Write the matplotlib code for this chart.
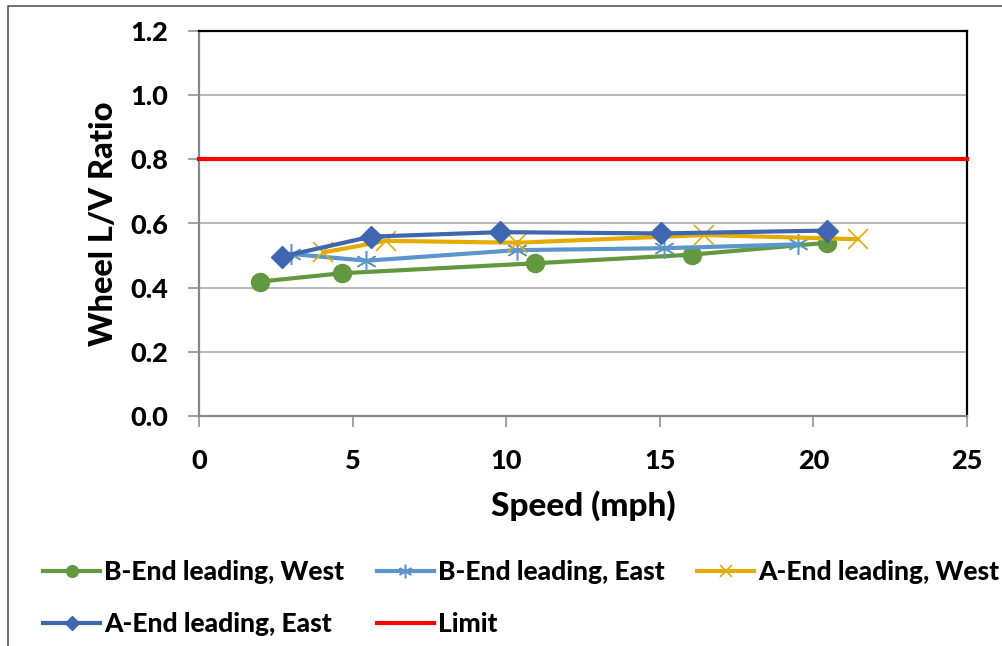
import matplotlib
matplotlib.use("Agg")
import matplotlib.pyplot as plt
from matplotlib.lines import Line2D

# Wheel L/V ratio vs speed, four test runs plus the limit
b_west_speed = [2.0, 4.65, 10.95, 16.05, 20.45]
b_west_lv = [0.419, 0.445, 0.476, 0.503, 0.540]

b_east_speed = [3.0, 5.45, 10.35, 15.15, 19.5]
b_east_lv = [0.505, 0.484, 0.517, 0.523, 0.535]

a_west_speed = [4.05, 6.1, 10.35, 16.45, 21.45]
a_west_lv = [0.510, 0.546, 0.540, 0.564, 0.551]

a_east_speed = [2.7, 5.6, 9.8, 15.05, 20.45]
a_east_lv = [0.497, 0.559, 0.573, 0.569, 0.578]

limit_speed = [0, 25]
limit_lv = [0.8, 0.8]

x_ticks = [0, 5, 10, 15, 20, 25]
y_ticks = [0.0, 0.2, 0.4, 0.6, 0.8, 1.0, 1.2]

WEIGHT = 'black'
plt.rcParams['font.family'] = ['Lato', 'DejaVu Sans']
plt.rcParams['font.weight'] = WEIGHT

W, H = 1002, 646
fig = plt.figure(figsize=(W / 100, H / 100), dpi=100)
ax = fig.add_axes([199 / W, 1 - 416 / H, (967 - 199) / W, (416 - 31) / H])

lw = 3.0
l1, = ax.plot(b_west_speed, b_west_lv, color='#62993E', lw=lw, marker='o',
              markersize=13, label='B-End leading, West', zorder=3)
l2, = ax.plot(b_east_speed, b_east_lv, color='#5A95CC', lw=lw, marker=(6, 2, 0),
              markersize=15, markeredgewidth=1.1, label='B-End leading, East', zorder=4)
l3, = ax.plot(a_west_speed, a_west_lv, color='#E5AC00', lw=lw, marker='x',
              markersize=14, markeredgewidth=1.2, label='A-End leading, West', zorder=5)
l4, = ax.plot(a_east_speed, a_east_lv, color='#3F66B0', lw=lw, marker='D',
              markersize=11, label='A-End leading, East', zorder=6)
l5, = ax.plot(limit_speed, limit_lv, color='#FF0000', lw=3.0, label='Limit',
              zorder=7, solid_capstyle='projecting', clip_on=False)

ax.set_xlim(0, 25)
ax.set_ylim(0, 1.2)
ax.set_xticks(x_ticks)
ax.set_xticklabels([str(t) for t in x_ticks])
ax.set_yticks(y_ticks)
ax.set_yticklabels([f"{t:.1f}" for t in y_ticks])

ax.grid(axis='y', color='#A6A6A6', lw=1.1, zorder=0)
ax.set_axisbelow(True)

for side in ('top', 'right'):
    ax.spines[side].set_color('#000000')
    ax.spines[side].set_linewidth(1.6)
for side in ('left', 'bottom'):
    ax.spines[side].set_color('#888888')
    ax.spines[side].set_linewidth(1.6)

ax.tick_params(axis='both', direction='out', length=8, width=1.1,
               color='#888888', labelsize=19.5)
ax.tick_params(axis='y', pad=14)
ax.tick_params(axis='x', pad=16)
for lab in ax.get_xticklabels() + ax.get_yticklabels():
    lab.set_fontweight(WEIGHT)

ax.set_xlabel('Speed (mph)', fontsize=24, fontweight=WEIGHT, labelpad=12)
ax.set_ylabel('Wheel L/V Ratio', fontsize=23.5, fontweight=WEIGHT, labelpad=9)

# Column-major fill so the entries read row by row
handles = [l1, l4, l2, l5, l3]
leg = fig.legend(handles=handles, labels=[h.get_label() for h in handles],
                 ncol=3, loc='center', bbox_to_anchor=(521 / W, 1 - 598 / H),
                 frameon=False, fontsize=19, handlelength=2.15,
                 handletextpad=0.15, columnspacing=1.25, labelspacing=1.05,
                 markerscale=0.65)
for t in leg.get_texts():
    t.set_fontweight(WEIGHT)

# Outer frame of the chart area
fig.add_artist(Line2D([8 / W, 8 / W, 1.0], [0.0, 1 - 6 / H, 1 - 6 / H],
                      transform=fig.transFigure, color='#595959', lw=1.2))

fig.savefig('out.png', dpi=100)
